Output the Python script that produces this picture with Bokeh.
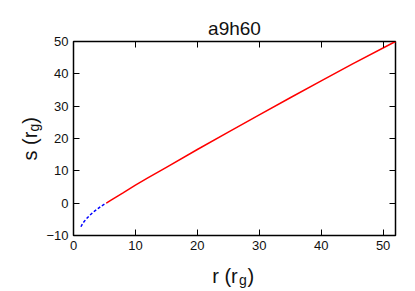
from bokeh.plotting import figure
from bokeh.models import Range1d, LinearAxis, FixedTicker
from bokeh.core.properties import value
from bokeh.embed import file_html
from bokeh.resources import INLINE
import math

title_text = "a9h60"
x_ticks = [0, 10, 20, 30, 40, 50]
y_ticks = [-10, 0, 10, 20, 30, 40, 50]
x_lo, x_hi = 0, 52
y_lo, y_hi = -10, 50

inner_r = [1.2, 1.5, 2.0, 2.5, 3.0, 3.5, 4.0, 4.5, 5.0, 5.3]
inner_s = [-7.3, -6.2, -5.0, -4.0, -3.1, -2.3, -1.6, -0.9, -0.3, 0.0]

outer_r = [5.3, 6, 7, 8, 10, 12, 15, 20, 25, 30, 35, 40, 45, 52]
outer_s = [0.0, 0.85, 2.05, 3.2, 5.55, 7.8, 11.1, 16.6, 22.0, 27.3, 32.6, 37.8, 43.0, 50.0]

FONT = "Liberation Sans"

# canvas geometry (pixels): plot box inside the canvas
W, H = 414, 290
BL, BR, BT, BB = 73, 19, 41, 55
sx = (W - BL - BR) / (x_hi - x_lo)
sy = (H - BT - BB) / (y_hi - y_lo)
xr = Range1d(x_lo - BL / sx, x_hi + BR / sx)
yr = Range1d(y_lo - BB / sy, y_hi + BT / sy)

p = figure(width=W, height=H, output_backend="svg", toolbar_location=None,
           x_range=xr, y_range=yr, x_axis_location=None, y_axis_location=None,
           min_border=0)
p.background_fill_color = "white"
p.border_fill_color = "white"
p.outline_line_color = None
p.grid.visible = False

# plot box
p.quad(left=[x_lo], right=[x_hi], bottom=[y_lo], top=[y_hi],
       fill_color=None, line_color="black", line_width=1.5)

p.line(outer_r, outer_s, line_color="#ff0000", line_width=1.5)
p.line(inner_r, inner_s, line_color="#0000ff", line_width=1.5, line_dash="3 2")

def make_axis(ticks, loc, show, bounds):
    ax = LinearAxis(fixed_location=loc, bounds=bounds)
    ax.ticker = FixedTicker(ticks=ticks)
    ax.major_tick_in = 6
    ax.major_tick_out = 0
    ax.minor_tick_line_color = None
    ax.axis_line_color = None
    ax.major_tick_line_color = "black"
    ax.major_tick_line_width = 1
    if show:
        ax.major_label_text_font = FONT
        ax.major_label_text_font_size = "13px"
        ax.major_label_text_color = "#111111"
        ax.major_label_standoff = 5
    else:
        ax.major_label_text_font_size = "0px"
        ax.major_label_standoff = 0
        ax.major_label_text_alpha = 0
    return ax

p.add_layout(make_axis(x_ticks, y_lo, True, (x_lo, x_hi)), "below")
p.add_layout(make_axis(y_ticks, x_lo, True, (y_lo, y_hi)), "left")
p.add_layout(make_axis(y_ticks, x_hi, False, (y_lo, y_hi)), "right")
p.add_layout(make_axis(x_ticks, y_hi, False, (x_lo, x_hi)), "above")

def txt(x, y, t, size, angle=0.0, align="left"):
    p.text(x=[x], y=[y], text=[t], text_font=value(FONT), text_font_size=value(size),
           text_color="#111111", angle=angle, text_align=align,
           text_baseline="alphabetic")

# title
txt(26.0, 54.0, title_text, "19px", align="center")
# x label: r (r_g)
txt(22.4, -22.5, "r (r", "20px")
txt(26.73, -23.7, "g", "14px")
txt(28.1, -22.5, ")", "20px")
# y label: s (r_g)
txt(-7.1, 13.2, "s (r", "20px", angle=math.pi / 2)
txt(-6.45, 22.13, "g", "14px", angle=math.pi / 2)
txt(-7.1, 24.55, ")", "20px", angle=math.pi / 2)

open("out.html", "w").write(file_html(p, INLINE))
